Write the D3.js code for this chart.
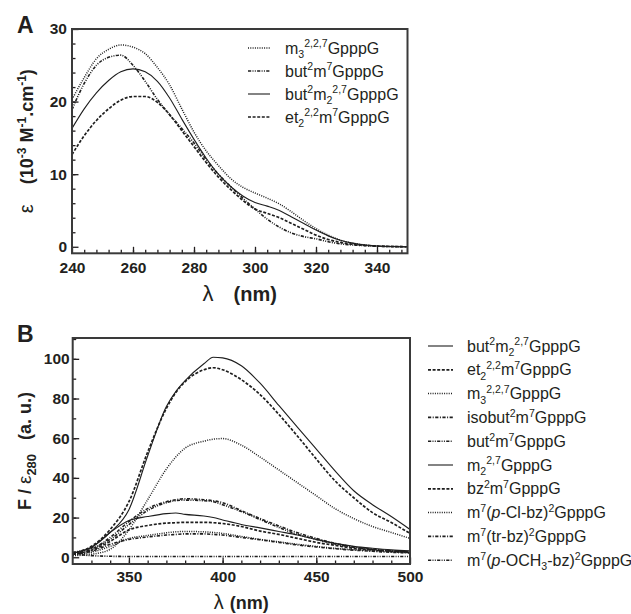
<!DOCTYPE html>
<html>
<head>
<meta charset="utf-8">
<script src="https://cdn.jsdelivr.net/npm/d3@7"></script>
<style>
  html, body { margin: 0; padding: 0; background: #fff; }
  svg { display: block; }
</style>
</head>
<body>
<svg id="chart" width="631" height="614"></svg>
<script>
// ---------------- DATA ----------------
// Panel A: absorption spectra (epsilon, 10^-3 M^-1 cm^-1)
const waveA = [240,244,248,252,256,260,264,268,272,276,280,284,288,292,296,300,304,308,312,316,320,324,328,332,336,340,345,350];
const epsM3      = [20.3,23.3,25.9,27.2,27.8,27.5,26.6,24.7,22.3,19.0,15.8,13.2,11.2,9.4,8.2,7.4,6.7,5.9,4.8,3.6,2.5,1.6,0.9,0.5,0.25,0.1,0.03,0];
const epsBut2m7  = [18.9,22.5,25.0,26.1,26.4,25.0,22.8,20.3,18.2,16.3,14.3,12.0,10.0,8.3,6.7,5.2,3.8,2.7,1.9,1.4,1.1,0.7,0.4,0.25,0.15,0.08,0.03,0];
const epsBut2m2  = [16.3,19.0,21.2,22.9,24.1,24.5,24.1,22.8,20.5,17.6,14.8,12.2,10.0,8.3,7.0,6.1,5.6,5.0,4.1,3.2,2.3,1.5,0.9,0.5,0.25,0.1,0.03,0];
const epsEt2     = [12.7,15.3,17.4,19.0,20.2,20.7,20.7,19.9,18.2,16.0,13.8,11.6,9.6,7.9,6.4,5.2,4.6,4.0,3.2,2.4,1.6,1.0,0.6,0.35,0.2,0.1,0.03,0];
const namesA = ["m_{3}^{2,2,7}GpppG", "but^{2}m^{7}GpppG", "but^{2}m_{2}^{2,7}GpppG", "et_{2}^{2,2}m^{7}GpppG"];
const xTicksA = [240,260,280,300,320,340];
const yTicksA = [0,10,20,30];

// Panel B: fluorescence F / eps280 (a. u.)
const waveB = [320,330,340,350,360,370,375,380,390,395,400,410,420,430,440,450,460,470,480,490,500];
const fBut2m2   = [2,5,12.5,24,51,76,83.5,89,97.5,100.8,100.5,96.5,87.7,76.5,65.5,54.5,43.5,33.5,26.5,20.5,14];
const fEt2      = [2,5.5,14,28,53,75,83,88.5,94.5,95.5,94.5,89.5,82,72,61,49.5,38.5,30,22.5,17.5,12];
const fM3       = [0.8,1.5,4,13.8,29,44.5,50.5,55,58.5,59.5,59.8,56.5,50.5,44,37.5,31,24.5,19.5,15.5,12.5,9.5];
const fIsobut   = [2,4,10,18,24.5,28,29,29.5,29,28.5,27.5,23.5,19.5,15.8,12.3,9.5,7,5.2,4,3.2,2.8];
const fBut2m7   = [2.5,4.5,9,16.5,23.5,27.5,28.5,28.8,28.5,28,26.5,23,19,15,11.5,9,6.7,5,3.8,3.2,2.5];
const fM2       = [2,5,12.5,18.5,20.5,22,22.3,21.6,20.8,20,18.8,16.5,14.8,13,11.2,9,7,5.5,4.5,3.7,3.2];
const fBz       = [1.5,3.5,8,13.8,16,17.2,17.4,17.6,17.6,17.4,17,15.5,13.2,11.5,9.5,7.5,6,4.5,3.7,3,2.7];
const fPCl      = [1,2.5,5.5,9.5,11,12.3,12.8,13,12.8,12.5,12,10.5,9,7.8,6.5,5.5,4.5,3.8,3.2,2.7,2.3];
const fTrBz     = [1.5,3,6.5,9,10.2,11.2,11.5,11.8,11.8,11.5,11.2,10,8.8,7.5,6.2,5.2,4.3,3.6,3,2.5,2.2];
const fOCH3     = [1.8,0.8,0.5,0.4,0.4,0.4,0.4,0.4,0.4,0.4,0.4,0.4,0.4,0.4,0.4,0.4,0.4,0.4,0.4,0.4,0.4];
const namesB = ["but^{2}m_{2}^{2,7}GpppG", "et_{2}^{2,2}m^{7}GpppG", "m_{3}^{2,2,7}GpppG", "isobut^{2}m^{7}GpppG",
  "but^{2}m^{7}GpppG", "m_{2}^{2,7}GpppG", "bz^{2}m^{7}GpppG", "m^{7}(~p~-Cl-bz)^{2}GpppG",
  "m^{7}(tr-bz)^{2}GpppG", "m^{7}(~p~-OCH_{3}-bz)^{2}GpppG"];
const xTicksB = [350,400,450,500];
const yTicksB = [0,20,40,60,80,100];

// ---------------- STYLE ----------------
const FONT = '"Liberation Sans", Arial, Helvetica, sans-serif';
const INK = "#231f20";
const DASH = {
  solid: null,
  dotted: "1,1.3",
  dashed: "3,1.6",
  dashdot: "3.2,1.5,1,1.5",
  dashdotdot: "3.2,1.3,1,1.3,1,1.3"
};
const WIDTH = { solid: 1.1, dotted: 1.5, dashed: 1.7, dashdot: 1.6, dashdotdot: 1.6 };
const stylesA = ["dotted","dashdotdot","solid","dashed"];
const stylesB = ["solid","dashed","dotted","dashdot","dashdotdot","solid","dashed","dotted","dashdot","dashdotdot"];

const svg = d3.select("#chart");

// rich text: _{sub} ^{sup} ~italic~
function rich(textSel, str, fs) {
  const parts = str.match(/(_\{[^}]*\}|\^\{[^}]*\}|~[^~]*~|[^_^~]+)/g);
  let off = 0;
  parts.forEach(p => {
    let t = p, target = 0, size = fs, italic = false;
    if (p.startsWith("_{")) { t = p.slice(2, -1); target = 0.28 * fs; size = 0.66 * fs; }
    else if (p.startsWith("^{")) { t = p.slice(2, -1); target = -0.38 * fs; size = 0.66 * fs; }
    else if (p.startsWith("~")) { t = p.slice(1, -1); italic = true; }
    const ts = textSel.append("tspan").attr("font-size", size).text(t);
    if (target - off !== 0) ts.attr("dy", target - off);
    if (italic) ts.attr("font-style", "italic");
    off = target;
  });
}

function panel(cfg) {
  const g = svg.append("g");
  const x = d3.scaleLinear().domain(cfg.xDomain).range([cfg.left, cfg.right]);
  const y = d3.scaleLinear().domain(cfg.yDomain).range([cfg.bottom, cfg.top]);

  const clipId = "clip" + cfg.id;
  svg.append("clipPath").attr("id", clipId).append("rect")
    .attr("x", cfg.left).attr("y", cfg.top)
    .attr("width", cfg.right - cfg.left).attr("height", cfg.bottom - cfg.top);

  // minor ticks
  g.append("g").attr("transform", `translate(0,${cfg.bottom})`)
    .call(d3.axisBottom(x).tickValues(cfg.xMinor).tickSizeInner(-3.5).tickSizeOuter(0).tickFormat(""))
    .call(s => s.select(".domain").remove());
  g.append("g").attr("transform", `translate(${cfg.left},0)`)
    .call(d3.axisLeft(y).tickValues(cfg.yMinor).tickSizeInner(-3.5).tickSizeOuter(0).tickFormat(""))
    .call(s => s.select(".domain").remove());
  // major ticks + labels
  const xa = g.append("g").attr("transform", `translate(0,${cfg.bottom})`)
    .call(d3.axisBottom(x).tickValues(cfg.xTicks).tickSizeInner(-6.5).tickSizeOuter(0).tickPadding(cfg.xPad))
    .call(s => s.select(".domain").remove());
  const ya = g.append("g").attr("transform", `translate(${cfg.left},0)`)
    .call(d3.axisLeft(y).tickValues(cfg.yTicks).tickSizeInner(-6.5).tickSizeOuter(0).tickPadding(cfg.yPad))
    .call(s => s.select(".domain").remove());
  g.selectAll(".tick line").attr("stroke", INK).attr("stroke-width", 1.3);
  [xa, ya].forEach(a => a.selectAll("text")
    .attr("font-family", FONT).attr("font-size", 15.5).attr("font-weight", "bold").attr("fill", INK));

  // curves
  const line = d3.line().curve(d3.curveMonotoneX).x(d => x(d[0])).y(d => y(d[1]));
  const lines = g.append("g").attr("clip-path", `url(#${clipId})`);
  cfg.series.forEach((vals, i) => {
    const st = cfg.styles[i];
    lines.append("path")
      .datum(cfg.wave.map((w, j) => [w, vals[j]]))
      .attr("d", line)
      .attr("fill", "none")
      .attr("stroke", "#1e1e1e")
      .attr("stroke-width", WIDTH[st])
      .attr("stroke-dasharray", DASH[st]);
  });

  // frame
  g.append("rect").attr("x", cfg.left).attr("y", cfg.top)
    .attr("width", cfg.right - cfg.left).attr("height", cfg.bottom - cfg.top)
    .attr("fill", "none").attr("stroke", "#3a3a3a").attr("stroke-width", 2);

  // panel letter
  g.append("text").attr("x", 17).attr("y", cfg.top + 4)
    .attr("font-family", FONT).attr("font-size", 23).attr("font-weight", "bold").attr("fill", INK)
    .text(cfg.letter);

  // x title
  const xt = g.append("text")
    .attr("x", (cfg.left + cfg.right) / 2).attr("y", cfg.bottom + cfg.xTitleOff)
    .attr("text-anchor", "middle").attr("font-family", FONT).attr("fill", INK);
  xt.append("tspan").attr("font-size", cfg.xTitleSize + 2).text("λ");
  xt.append("tspan").attr("dx", cfg.xTitleGap).attr("font-size", cfg.xTitleSize).attr("font-weight", "bold").text("(nm)");

  // y title
  const yt = g.append("text")
    .attr("transform", `translate(${cfg.yTitleX},${(cfg.top + cfg.bottom) / 2}) rotate(-90)`)
    .attr("text-anchor", "middle").attr("font-family", FONT).attr("fill", INK)
    .attr("font-size", 18).attr("font-weight", "bold");
  cfg.yTitle(yt);

  // legend
  const lg = g.append("g");
  cfg.legendNames.forEach((name, i) => {
    const yy = cfg.legY0 + i * cfg.legDy;
    const st = cfg.styles[i];
    lg.append("line").attr("x1", cfg.legX0).attr("x2", cfg.legX0 + cfg.legLen)
      .attr("y1", yy).attr("y2", yy)
      .attr("stroke", "#1e1e1e").attr("stroke-width", WIDTH[st])
      .attr("stroke-dasharray", DASH[st]);
    const t = lg.append("text").attr("x", cfg.legTx).attr("y", yy + 5.5)
      .attr("font-family", FONT).attr("font-size", 16).attr("fill", INK);
    rich(t, name, 16);
  });
}

function rangeStep(a, b, s) { const r = []; for (let v = a; v <= b + 1e-9; v += s) r.push(v); return r; }

panel({
  id: "A", letter: "A",
  left: 72, right: 407.5, top: 29, bottom: 253.3,
  xDomain: [240, 350], yDomain: [-0.9, 30],
  xTicks: xTicksA, yTicks: yTicksA,
  xMinor: rangeStep(244, 348, 4), yMinor: rangeStep(2, 28, 2),
  xPad: 9, yPad: 5,
  wave: waveA, series: [epsM3, epsBut2m7, epsBut2m2, epsEt2], styles: stylesA,
  xTitleOff: 48, xTitleSize: 20, xTitleGap: 20,
  yTitleX: 33,
  yTitle: t => {
    t.append("tspan").attr("font-weight", "normal").attr("font-size", 20).text("ε");
    t.append("tspan").attr("dx", 20).text("(10");
    t.append("tspan").attr("dy", -7).attr("font-size", 12).text("-3");
    t.append("tspan").attr("dy", 7).text(" M");
    t.append("tspan").attr("dy", -7).attr("font-size", 12).text("-1");
    t.append("tspan").attr("dy", 7).text(".cm");
    t.append("tspan").attr("dy", -7).attr("font-size", 12).text("-1");
    t.append("tspan").attr("dy", 7).text(")");
  },
  legendNames: namesA, legX0: 248, legLen: 22, legTx: 285, legY0: 48, legDy: 23
});

panel({
  id: "B", letter: "B",
  left: 72.7, right: 410, top: 338, bottom: 564,
  xDomain: [320, 500], yDomain: [-3.4, 110.5],
  xTicks: xTicksB, yTicks: yTicksB,
  xMinor: rangeStep(330, 490, 10), yMinor: rangeStep(10, 110, 10),
  xPad: 7.4, yPad: 3,
  wave: waveB, series: [fBut2m2, fEt2, fM3, fIsobut, fBut2m7, fM2, fBz, fPCl, fTrBz, fOCH3], styles: stylesB,
  xTitleOff: 45, xTitleSize: 18, xTitleGap: 6,
  yTitleX: 31,
  yTitle: t => {
    t.append("tspan").text("F / ");
    t.append("tspan").attr("font-weight", "normal").attr("font-size", 19).text("ε");
    t.append("tspan").attr("dy", 5).attr("font-size", 13).text("280");
    t.append("tspan").attr("dy", -5).attr("dx", 14).text("(a. u.)");
  },
  legendNames: namesB, legX0: 428, legLen: 25, legTx: 467, legY0: 346, legDy: 23.8
});
</script>
</body>
</html>
